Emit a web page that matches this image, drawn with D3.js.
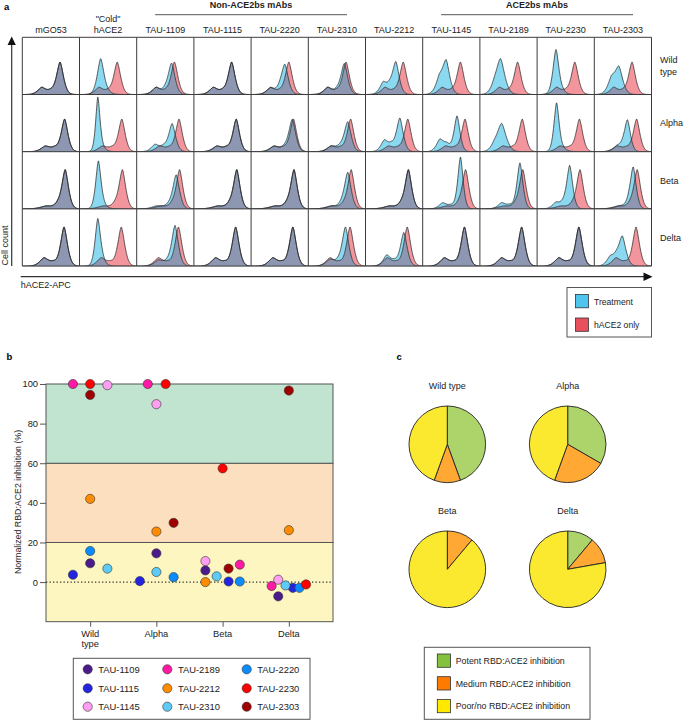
<!DOCTYPE html>
<html><head><meta charset="utf-8">
<script src="https://cdn.jsdelivr.net/npm/d3@7"></script>
<style>
body{margin:0;background:#fff;}
svg{display:block;font-family:"Liberation Sans",Arial,Helvetica,sans-serif;}
</style></head><body>
<svg id="chart" width="685" height="720"></svg>
<script>
// ================= DATA =================
// ---- panel a: flow cytometry histograms ----
const variants = ["Wild type", "Alpha", "Beta", "Delta"];
const histColumns = ["mGO53", "\"Cold\"|hACE2", "TAU-1109", "TAU-1115", "TAU-2220", "TAU-2310",
                     "TAU-2212", "TAU-1145", "TAU-2189", "TAU-2230", "TAU-2303"];
const columnGroups = [["Non-ACE2bs mAbs", "TAU-1109", "TAU-2310"], ["ACE2bs mAbs", "TAU-1145", "TAU-2303"]];
const histLegend = ["Treatment", "hACE2 only"];
// peaks: [APC position (0-1), cell count (fraction of cell height), spread]
const hace2OnlyPeaks = [
  [[0.34, 0.12, 0.065], [0.50, 0.06, 0.065], [0.66, 0.56, 0.055]],
  [[0.40, 0.09, 0.070], [0.57, 0.07, 0.075], [0.74, 0.56, 0.053]],
  [[0.42, 0.05, 0.095], [0.62, 0.07, 0.065], [0.75, 0.67, 0.053]],
  [[0.38, 0.14, 0.070], [0.54, 0.06, 0.065], [0.73, 0.68, 0.055]]
];
// null = treatment histogram identical to hACE2 only
const treatmentPeaks = [
  [null,
   [[0.37, 0.62, 0.054], [0.50, 0.03, 0.065]],
   [[0.34, 0.12, 0.065], [0.50, 0.06, 0.065], [0.61, 0.53, 0.055]],
   null,
   [[0.34, 0.11, 0.065], [0.50, 0.07, 0.065], [0.59, 0.50, 0.055]],
   [[0.34, 0.12, 0.065], [0.50, 0.06, 0.065], [0.63, 0.53, 0.055]],
   [[0.31, 0.20, 0.058], [0.42, 0.10, 0.058], [0.53, 0.55, 0.054]],
   [[0.29, 0.25, 0.062], [0.41, 0.55, 0.058]],
   [[0.25, 0.10, 0.062], [0.36, 0.60, 0.068]],
   [[0.33, 0.78, 0.048], [0.45, 0.04, 0.058]],
   [[0.30, 0.25, 0.062], [0.43, 0.45, 0.062]]],
  [null,
   [[0.32, 0.90, 0.034], [0.38, 0.10, 0.058]],
   [[0.32, 0.12, 0.062], [0.47, 0.08, 0.065], [0.62, 0.48, 0.055]],
   null,
   [[0.40, 0.09, 0.070], [0.58, 0.07, 0.075], [0.72, 0.55, 0.055]],
   [[0.40, 0.09, 0.070], [0.56, 0.08, 0.075], [0.69, 0.50, 0.055]],
   [[0.33, 0.19, 0.058], [0.45, 0.10, 0.058], [0.60, 0.58, 0.054]],
   [[0.30, 0.20, 0.058], [0.42, 0.12, 0.058], [0.60, 0.62, 0.048]],
   [[0.25, 0.08, 0.062], [0.38, 0.48, 0.072]],
   [[0.34, 0.84, 0.042], [0.45, 0.05, 0.065]],
   [[0.40, 0.09, 0.070], [0.50, 0.06, 0.065], [0.58, 0.52, 0.048]]],
  [null,
   [[0.33, 0.82, 0.043], [0.42, 0.05, 0.065]],
   [[0.35, 0.05, 0.080], [0.55, 0.06, 0.075], [0.69, 0.58, 0.054]],
   null,
   null,
   [[0.40, 0.05, 0.090], [0.58, 0.06, 0.065], [0.69, 0.62, 0.054]],
   null,
   [[0.35, 0.10, 0.062], [0.50, 0.06, 0.065], [0.66, 0.90, 0.043]],
   [[0.38, 0.10, 0.062], [0.52, 0.06, 0.065], [0.70, 0.80, 0.048]],
   [[0.33, 0.10, 0.062], [0.45, 0.08, 0.065], [0.57, 0.74, 0.048]],
   [[0.45, 0.05, 0.090], [0.60, 0.06, 0.065], [0.68, 0.70, 0.048]]],
  [null,
   [[0.32, 0.80, 0.043], [0.40, 0.08, 0.058]],
   [[0.38, 0.10, 0.070], [0.53, 0.06, 0.065], [0.67, 0.70, 0.054]],
   null,
   null,
   [[0.38, 0.11, 0.070], [0.52, 0.06, 0.065], [0.65, 0.67, 0.054]],
   [[0.37, 0.18, 0.058], [0.50, 0.08, 0.065], [0.67, 0.58, 0.054]],
   null,
   null,
   null,
   [[0.28, 0.15, 0.062], [0.38, 0.10, 0.058], [0.49, 0.50, 0.058]]]
];

// ---- panel b: normalized RBD:ACE2 inhibition (%) per variant ----
const antibodies = ["TAU-1109", "TAU-1115", "TAU-1145", "TAU-2189", "TAU-2212", "TAU-2310", "TAU-2220", "TAU-2230", "TAU-2303"];
const antibodyColors = ["#4b1b8c", "#2424e0", "#ff9ef2", "#ff1aa6", "#ff8c00", "#5ecbf6", "#0a8cff", "#ff0000", "#a10000"];
const inhibitionValues = [
  [9.5, 14.5, 5.9, -7.2],
  [3.7, 0.5, 0.3, -2.9],
  [99.4, 89.8, 10.6, 1.2],
  [100, 100, 8.8, -2.0],
  [42.0, 25.5, 0.0, 26.2],
  [6.8, 5.1, 2.9, -1.7],
  [15.7, 2.5, 0.3, -2.9],
  [100, 100, 57.4, -1.2],
  [94.5, 29.9, 6.8, 96.7]
];
// horizontal dodge of each dot within its variant, in category steps
const dodgeValues = [
  [0, 0, -0.26, -0.16],
  [-0.26, -0.25, 0.09, 0.06],
  [0.26, 0, -0.26, -0.16],
  [-0.26, -0.13, 0.26, -0.26],
  [0, 0, -0.26, 0],
  [0.26, 0, -0.09, -0.05],
  [0, 0.26, 0.26, 0.16],
  [0, 0.14, 0, 0.26],
  [0, 0.26, 0.09, 0]
];
const yTicks = [0, 20, 40, 60, 80, 100];
const bandEdges = [-20, 20, 60, 100];

// ---- panel c: counts of antibodies per inhibition class ----
const inhibitionClasses = ["Potent RBD:ACE2 inhibition", "Medium RBD:ACE2 inhibition", "Poor/no RBD:ACE2 inhibition"];
const potentCounts = [4, 3, 0, 1];
const mediumCounts = [1, 2, 1, 1];
const poorCounts = [4, 4, 8, 7];

// ================= DRAWING =================
const svg = d3.select("#chart");
const ink = "#222";
const gridCol = "#3c3c3c";

function panelLabel(t, x, y) {
  svg.append("text").attr("x", x).attr("y", y).attr("font-size", 9.5).attr("font-weight", "bold").attr("fill", "#000").text(t);
}

// ---------- Panel a ----------
panelLabel("a", 4, 10);
const xCol = d3.scaleBand().domain(histColumns).range([22.3, 651.5]);
const yRow = d3.scaleBand().domain(variants).range([37.3, 266.1]);
const apc = d3.scaleLinear().domain([0, 1]).range([0, xCol.bandwidth()]);
const cnt = d3.scaleLinear().domain([0, 1]).range([yRow.bandwidth(), 0]);
const samples = d3.range(0, 1.00001, 1 / 220);
// peak shape: slightly pointed bell (like a log-scale flow histogram)
const density = (peaks, x) => d3.sum(peaks, p => p[1] * Math.exp(-0.5 * Math.pow(Math.abs(x - p[0]) / p[2], 1.6)));
const areaGen = d3.area().x(d => apc(d[0])).y0(cnt(0)).y1(d => cnt(d[1]));
const lineGen = d3.line().x(d => apc(d[0])).y(d => cnt(d[1]));

const defs = svg.append("defs");
defs.append("clipPath").attr("id", "cellClip").append("rect")
  .attr("x", 0).attr("y", 0).attr("width", xCol.bandwidth()).attr("height", yRow.bandwidth());

const hist = svg.append("g");
variants.forEach((v, ri) => {
  const ctrl = samples.map(x => [x, density(hace2OnlyPeaks[ri], x)]);
  histColumns.forEach((c, ci) => {
    const tp = treatmentPeaks[ri][ci] || hace2OnlyPeaks[ri];
    const trt = samples.map(x => [x, density(tp, x)]);
    const ovl = ctrl.map((d, i) => [d[0], Math.min(d[1], trt[i][1])]);
    const g = hist.append("g").attr("transform", `translate(${xCol(c)},${yRow(v)})`).attr("clip-path", "url(#cellClip)");
    g.append("path").attr("d", areaGen(ctrl)).attr("fill", "#f3959c");
    g.append("path").attr("d", areaGen(trt)).attr("fill", "#8ad9f1");
    g.append("path").attr("d", areaGen(ovl)).attr("fill", "#8d97b1");
    g.append("path").attr("d", lineGen(ctrl)).attr("fill", "none").attr("stroke", "#2a2a2a").attr("stroke-width", 0.75);
    g.append("path").attr("d", lineGen(trt)).attr("fill", "none").attr("stroke", "#2a2a2a").attr("stroke-width", 0.75);
  });
});
// grid
const gx0 = xCol.range()[0], gx1 = xCol.range()[1], gy0 = yRow.range()[0], gy1 = yRow.range()[1];
hist.selectAll("line.v").data(histColumns.concat(["end"])).enter().append("line")
  .attr("x1", (d, i) => gx0 + i * xCol.bandwidth()).attr("x2", (d, i) => gx0 + i * xCol.bandwidth())
  .attr("y1", gy0).attr("y2", gy1).attr("stroke", gridCol).attr("stroke-width", 1);
hist.selectAll("line.h").data(variants.concat(["end"])).enter().append("line")
  .attr("y1", (d, i) => gy0 + i * yRow.bandwidth()).attr("y2", (d, i) => gy0 + i * yRow.bandwidth())
  .attr("x1", gx0).attr("x2", gx1).attr("stroke", gridCol).attr("stroke-width", 1);

// column labels
histColumns.forEach(c => {
  const lines = c.split("|");
  const t = svg.append("text").attr("text-anchor", "middle").attr("font-size", 9).attr("fill", ink)
    .attr("x", xCol(c) + xCol.bandwidth() / 2);
  lines.forEach((l, i) => {
    t.append("tspan").attr("x", xCol(c) + xCol.bandwidth() / 2).attr("y", 33 - (lines.length - 1 - i) * 11.5).text(l);
  });
});
// group headers
columnGroups.forEach(([label, a, b]) => {
  const x1 = xCol(a) + 18.5, x2 = xCol(b) + xCol.bandwidth() - 18.5;
  svg.append("line").attr("x1", x1).attr("x2", x2).attr("y1", 14.7).attr("y2", 14.7).attr("stroke", "#555").attr("stroke-width", 1);
  svg.append("text").attr("x", (x1 + x2) / 2).attr("y", 8).attr("text-anchor", "middle")
    .attr("font-size", 9).attr("font-weight", "bold").attr("fill", ink).text(label);
});
// row labels
variants.forEach(v => {
  const lines = v === "Wild type" ? ["Wild", "type"] : [v];
  const cy = yRow(v) + yRow.bandwidth() / 2;
  lines.forEach((l, i) => {
    svg.append("text").attr("x", 660).attr("y", cy + 3.2 + (i - (lines.length - 1) / 2) * 11.5)
      .attr("font-size", 9).attr("fill", ink).text(l);
  });
});
// axes arrows
svg.append("line").attr("x1", 11.7).attr("x2", 11.7).attr("y1", 266).attr("y2", 44).attr("stroke", "#333").attr("stroke-width", 1.2);
svg.append("path").attr("d", "M11.7,36.5 L7.6,45 L15.8,45 Z").attr("fill", "#111");
svg.append("line").attr("x1", 20.7).attr("x2", 644).attr("y1", 276.7).attr("y2", 276.7).attr("stroke", "#333").attr("stroke-width", 1.2);
svg.append("path").attr("d", "M652.5,276.7 L643.5,272.5 L643.5,280.9 Z").attr("fill", "#111");
svg.append("text").attr("transform", "translate(7.6,265.5) rotate(-90)").attr("font-size", 9).attr("fill", ink).text("Cell count");
svg.append("text").attr("x", 20.7).attr("y", 288.3).attr("font-size", 9).attr("fill", ink).text("hACE2-APC");
// legend a
const la = svg.append("g");
la.append("rect").attr("x", 567).attr("y", 287.5).attr("width", 84.5).attr("height", 49.5).attr("fill", "#fff").attr("stroke", "#555");
histLegend.forEach((t, i) => {
  la.append("rect").attr("x", 575.5).attr("y", 294.5 + i * 23.5).attr("width", 13).attr("height", 13.3)
    .attr("fill", i === 0 ? "#4fc4ec" : "#e9505d").attr("stroke", "#333").attr("stroke-width", 0.8);
  la.append("text").attr("x", 594).attr("y", 304.6 + i * 23.5).attr("font-size", 8.6).attr("fill", ink).text(t);
});

// ---------- Panel b ----------
panelLabel("b", 6.5, 360);
const sx = d3.scalePoint().domain(variants).range([46, 333]).padding(0.667);
const sy = d3.scaleLinear().domain([-20, 100]).range([621.7, 384]);
const bandFill = ["#fdf6c1", "#fbdfbf", "#c0e4cf"];
const pb = svg.append("g");
d3.pairs(bandEdges).forEach(([lo, hi], i) => {
  pb.append("rect").attr("x", 46).attr("width", 287).attr("y", sy(hi)).attr("height", sy(lo) - sy(hi))
    .attr("fill", bandFill[i]).attr("stroke", "#555").attr("stroke-width", 1);
});
pb.append("line").attr("x1", 46).attr("x2", 333).attr("y1", sy(0)).attr("y2", sy(0))
  .attr("stroke", "#333").attr("stroke-width", 1.1).attr("stroke-dasharray", "1.3,2.2");
const yAx = pb.append("g").attr("transform", "translate(46,0)")
  .call(d3.axisLeft(sy).tickValues(yTicks).tickSize(6).tickPadding(2));
yAx.select(".domain").remove();
yAx.selectAll("line").attr("stroke", "#555");
yAx.selectAll("text").attr("font-size", 9.3).attr("fill", ink).attr("font-family", null);
const xAx = pb.append("g").attr("transform", `translate(0,${sy(-20)})`)
  .call(d3.axisBottom(sx).tickSize(5).tickFormat(""));
xAx.select(".domain").remove();
xAx.selectAll("line").attr("stroke", "#555");
variants.forEach(v => {
  const lines = v === "Wild type" ? ["Wild", "type"] : [v];
  lines.forEach((l, i) => {
    pb.append("text").attr("x", sx(v)).attr("y", 636.5 + i * 10.5).attr("text-anchor", "middle")
      .attr("font-size", 9.3).attr("fill", ink).text(l);
  });
});
svg.append("text").attr("transform", "translate(20.5,502) rotate(-90)").attr("text-anchor", "middle")
  .attr("font-size", 8.8).attr("fill", ink).text("Normalized RBD:ACE2 inhibition (%)");
const dots = [];
antibodies.forEach((ab, ai) => variants.forEach((v, vi) => dots.push({ ab, ai, v, val: inhibitionValues[ai][vi], dx: dodgeValues[ai][vi] })));
pb.selectAll("circle.dot").data(dots).enter().append("circle")
  .attr("cx", d => sx(d.v) + d.dx * sx.step()).attr("cy", d => sy(d.val)).attr("r", 4.6)
  .attr("fill", d => antibodyColors[d.ai]).attr("stroke", "#333").attr("stroke-width", 0.6);
// legend b
const lb = svg.append("g");
lb.append("rect").attr("x", 73.3).attr("y", 658.3).attr("width", 236.7).attr("height", 61).attr("fill", "#fff").attr("stroke", "#555");
const legX = [87.7, 167.3, 246.7], legY = [669.3, 688.3, 706.7];
antibodies.forEach((ab, i) => {
  const cx = legX[Math.floor(i / 3)], cy = legY[i % 3];
  lb.append("circle").attr("cx", cx).attr("cy", cy).attr("r", 4.6).attr("fill", antibodyColors[i]).attr("stroke", "#333").attr("stroke-width", 0.6);
  lb.append("text").attr("x", cx + 10.6).attr("y", cy + 3.3).attr("font-size", 9.4).attr("fill", ink).text(ab);
});

// ---------- Panel c ----------
panelLabel("c", 396.5, 360);
const pieCenters = d3.scalePoint().domain([0, 1]).range([447.3, 567.7]);
const pieRows = d3.scalePoint().domain([0, 1]).range([444.3, 569.3]);
const pieFill = ["#acd46b", "#ffa833", "#fbe92f"];
const pieGen = d3.pie().sort(null).value(d => d);
const arcGen = d3.arc().innerRadius(0).outerRadius(38.3);
variants.forEach((v, i) => {
  const cx = pieCenters(i % 2), cy = pieRows(Math.floor(i / 2));
  const g = svg.append("g").attr("transform", `translate(${cx},${cy})`);
  g.selectAll("path").data(pieGen([potentCounts[i], mediumCounts[i], poorCounts[i]])).enter().append("path")
    .attr("d", arcGen).attr("fill", (d, k) => pieFill[k]).attr("stroke", "#222").attr("stroke-width", 0.9);
  svg.append("text").attr("x", cx).attr("y", cy - 55).attr("text-anchor", "middle").attr("font-size", 9).attr("fill", ink).text(v);
});
// legend c
const lc = svg.append("g");
lc.append("rect").attr("x", 424.3).attr("y", 647.3).attr("width", 165.7).attr("height", 72).attr("fill", "#fff").attr("stroke", "#555");
const swatchFill = ["#84c23d", "#ff7b00", "#ffe900"];
inhibitionClasses.forEach((t, i) => {
  const cy = 660.7 + i * 22.7;
  lc.append("rect").attr("x", 437.3).attr("y", cy - 6.7).attr("width", 13.3).attr("height", 13.3)
    .attr("fill", swatchFill[i]).attr("stroke", "#333").attr("stroke-width", 0.8);
  lc.append("text").attr("x", 455.7).attr("y", cy + 3.2).attr("font-size", 8.8).attr("fill", ink).text(t);
});
</script>
</body></html>
